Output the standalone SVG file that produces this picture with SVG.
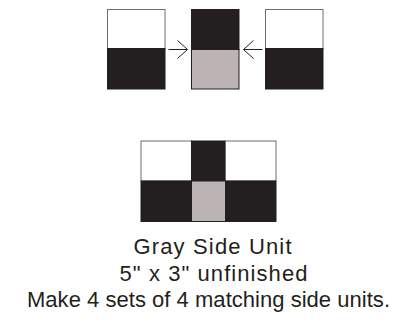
<svg xmlns="http://www.w3.org/2000/svg" width="417" height="322" viewBox="0 0 417 322">
<style>
.w{fill:#ffffff;stroke:#6d6e71;stroke-width:1}
.k{fill:#231f20;stroke:#231f20;stroke-width:1}
.g{fill:#bcb3b5;stroke:#231f20;stroke-width:1}
.arr{fill:none;stroke:#231f20;stroke-width:1}
text{font-family:"Liberation Sans",Arial,sans-serif;font-size:22px;fill:#231f20;text-anchor:middle}
</style>
<g id="unit-left">
<rect class="w" x="107.5" y="9.5" width="57.5" height="39"/>
<rect class="k" x="107.5" y="48.5" width="57.5" height="40.5"/>
</g>
<g id="unit-center">
<rect class="k" x="191.5" y="9.5" width="47.5" height="40"/>
<rect class="g" x="191.5" y="49.5" width="47.5" height="39.5"/>
</g>
<g id="unit-right">
<rect class="w" x="265.5" y="9.5" width="57.5" height="39"/>
<rect class="k" x="265.5" y="48.5" width="57.5" height="40.5"/>
</g>
<g id="connectors">
<path class="arr" d="M168.5 49.5H187.5M177.5 40.5L187.5 49.5L177.5 58.5"/>
<path class="arr" d="M262.5 49.5H243.5M253.5 40.5L243.5 49.5L253.5 58.5"/>
</g>
<g id="unit-sewn">
<rect class="w" x="141" y="141" width="50.5" height="40"/>
<rect class="k" x="191.5" y="141" width="34" height="40"/>
<rect class="w" x="225.5" y="141" width="50.5" height="40"/>
<rect class="k" x="141" y="181" width="50.5" height="40.5"/>
<rect class="g" x="191.5" y="181" width="34" height="40.5"/>
<rect class="k" x="225.5" y="181" width="50.5" height="40.5"/>
</g>
<g id="caption">
<text x="212.5" y="254" textLength="158" lengthAdjust="spacing">Gray Side Unit</text>
<text x="213.5" y="280.5" textLength="188" lengthAdjust="spacing">5" x 3" unfinished</text>
<text x="208.5" y="307" textLength="363" lengthAdjust="spacing">Make 4 sets of 4 matching side units.</text>
</g>
</svg>
